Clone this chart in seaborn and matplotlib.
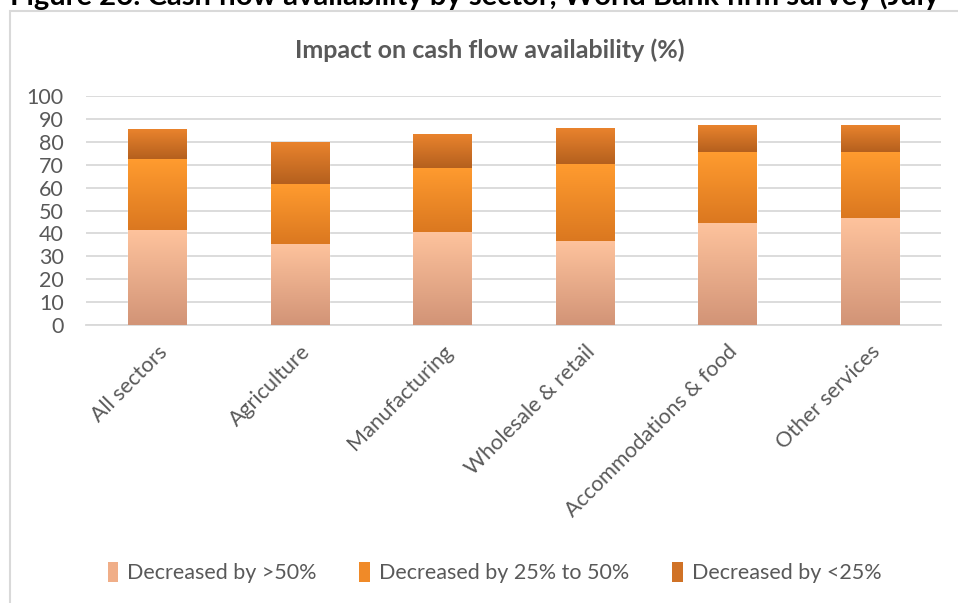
import numpy as np
import pandas as pd
import matplotlib
matplotlib.use("Agg")
import matplotlib.pyplot as plt
from matplotlib.colors import LinearSegmentedColormap
from matplotlib.patches import Rectangle, Patch
import seaborn as sns

# values (%)
sectors = ["All sectors", "Agriculture", "Manufacturing", "Wholesale & retail",
           "Accommodations & food", "Other services"]
dec_over_50 = [41.6, 35.5, 40.7, 36.8, 44.7, 46.9]
dec_25_to_50 = [31.0, 26.2, 28.0, 33.6, 31.0, 28.8]
dec_under_25 = [13.0, 18.3, 14.6, 15.5, 11.5, 11.5]
series_names = ["Decreased by >50%", "Decreased by 25% to 50%", "Decreased by <25%"]
y_ticks = list(range(0, 101, 10))

# (top colour, bottom colour) of each series gradient
grad_colors = [("#FEC39D", "#D29477"), ("#FF9B2F", "#DB7820"), ("#E9832D", "#B5601E")]
mid_colors = ["#F0AE88", "#F08A28", "#D07226"]

sns.set_theme(style="white")
plt.rcParams["font.family"] = ["Lato", "DejaVu Sans"]
grey = "#595959"

df = pd.DataFrame({"sector": sectors, "s1": dec_over_50, "s2": dec_25_to_50, "s3": dec_under_25})

fig = plt.figure(figsize=(9.58, 6.03), dpi=100)
ax = fig.add_axes([0.0898, 0.461, 0.8925, 0.3797])

bottom = np.zeros(len(df))
for col, c in zip(["s1", "s2", "s3"], mid_colors):
    sns.barplot(data=df, x="sector", y=col, bottom=bottom, color=c, width=0.41,
                saturation=1, ax=ax, zorder=2)
    bottom = bottom + df[col].to_numpy()

# paint vertical gradients on top of each bar segment
n = len(df)
for k, p in enumerate(ax.patches):
    top_c, bot_c = grad_colors[k // n]
    cmap = LinearSegmentedColormap.from_list("g", [bot_c, top_c])
    x0, y0 = p.get_x(), p.get_y()
    w, h = p.get_width(), p.get_height()
    grad = np.linspace(1, 0, 64).reshape(-1, 1)
    ax.imshow(grad, cmap=cmap, extent=[x0, x0 + w, y0, y0 + h], aspect="auto",
              interpolation="bilinear", zorder=3)

ax.set_xlim(-0.5, n - 0.5)
ax.set_ylim(0, 100)
ax.set_yticks(y_ticks)
ax.yaxis.grid(True, color="#D9D9D9", linewidth=1.3, zorder=0)
ax.set_axisbelow(True)
for s in ["top", "right", "left"]:
    ax.spines[s].set_visible(False)
ax.spines["bottom"].set_color("#D9D9D9")
ax.spines["bottom"].set_linewidth(1.3)
ax.set_xlabel("")
ax.set_ylabel("")
ax.tick_params(axis="y", length=0, pad=16, labelsize=15.5, labelcolor=grey)
ax.tick_params(axis="x", length=0, pad=12, labelsize=15.5, labelcolor=grey)
plt.setp(ax.get_xticklabels(), rotation=45, ha="right", rotation_mode="anchor")

fig.text(0.511, 0.917, "Impact on cash flow availability (%)", ha="center", va="center",
         fontsize=18, fontweight="bold", color=grey)

# report heading above the chart frame, cut by the top edge as in the reference
fig.text(10 / 958, 1 - 5 / 603,
         "Figure 26: Cash flow availability by sector, World Bank firm survey (July",
         ha="left", va="baseline", fontsize=21, fontweight="bold", color="black")

# chart frame, running off the right and bottom edges
fig.patches.append(Rectangle((10 / 958, -0.05), 1.1, 1 - 11 / 603 + 0.05,
                             transform=fig.transFigure, fill=False,
                             edgecolor="#D9D9D9", linewidth=1.5))

handles = [Patch(facecolor=c, edgecolor="none") for c in mid_colors]
fig.legend(handles, series_names, loc="center", bbox_to_anchor=(0.516, 0.05), ncol=3,
           frameon=False, fontsize=15.5, labelcolor=grey, handlelength=0.5,
           handleheight=1.0, handletextpad=0.4, columnspacing=2.0)

fig.savefig("out.png", dpi=100)
